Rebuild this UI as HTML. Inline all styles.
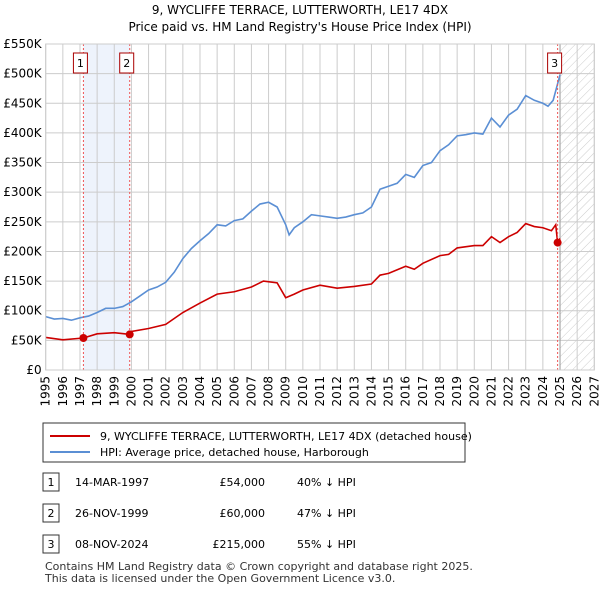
<!DOCTYPE html>
<html><head><meta charset="utf-8"><style>
body{margin:0;background:#fff;font-family:"Liberation Sans","DejaVu Sans",sans-serif;}
svg text{font-family:"DejaVu Sans","Liberation Sans",sans-serif;}
</style></head><body>
<svg id="c" width="600" height="590" xmlns="http://www.w3.org/2000/svg">
<defs><pattern id="h" width="6" height="6" patternUnits="userSpaceOnUse" patternTransform="rotate(45)"><line x1="0" y1="0" x2="0" y2="6" stroke="#ccc" stroke-width="1"/></pattern></defs>
<text x="300" y="14" text-anchor="middle" font-size="12">9, WYCLIFFE TERRACE, LUTTERWORTH, LE17 4DX</text>
<text x="300" y="31" text-anchor="middle" font-size="12">Price paid vs. HM Land Registry's House Price Index (HPI)</text>
<g id="plot"></g>
<rect x="43" y="423" width="422" height="39" fill="#fff" stroke="#333"/>
<line x1="50" y1="436" x2="90" y2="436" stroke="#cc0000" stroke-width="2"/>
<text x="100" y="440" font-size="11">9, WYCLIFFE TERRACE, LUTTERWORTH, LE17 4DX (detached house)</text>
<line x1="50" y1="452" x2="90" y2="452" stroke="#5b8fd4" stroke-width="2"/>
<text x="100" y="456" font-size="11">HPI: Average price, detached house, Harborough</text>
<g id="tbl"></g>
<text x="45" y="570" font-size="11" fill="#333">Contains HM Land Registry data © Crown copyright and database right 2025.</text>
<text x="45" y="582" font-size="11" fill="#333">This data is licensed under the Open Government Licence v3.0.</text>
</svg>
<script>
const hpiX=[1995,1995.5,1996,1996.5,1997,1997.5,1998,1998.5,1999,1999.5,2000,2000.5,2001,2001.5,2002,2002.5,2003,2003.5,2004,2004.5,2005,2005.5,2006,2006.5,2007,2007.5,2008,2008.5,2009,2009.2,2009.5,2010,2010.5,2011,2011.5,2012,2012.5,2013,2013.5,2014,2014.5,2015,2015.5,2016,2016.5,2017,2017.5,2018,2018.5,2019,2019.5,2020,2020.5,2021,2021.5,2022,2022.5,2023,2023.5,2024,2024.3,2024.6,2025];
const hpiY=[90,86,87,84,88,91,97,104,104,107,115,125,135,140,148,165,188,205,218,230,245,243,252,255,268,280,283,275,245,228,240,250,262,260,258,256,258,262,265,275,305,310,315,330,325,345,350,370,380,395,397,400,398,425,410,430,440,463,455,450,445,455,498];
const redX=[1995,1996,1997.2,1998,1999,1999.9,2000,2001,2002,2003,2004,2005,2006,2007,2007.7,2008.5,2009,2009.5,2010,2011,2012,2013,2014,2014.5,2015,2016,2016.5,2017,2018,2018.5,2019,2020,2020.5,2021,2021.5,2022,2022.5,2023,2023.5,2024,2024.5,2024.75,2024.86,2025];
const redY=[55,51,54,61,63,60,65,70,77,97,113,128,132,140,150,147,122,128,135,143,138,141,145,160,163,175,170,180,193,195,206,210,210,225,215,225,232,247,242,240,235,245,215,222];
const sales=[{t:1997.2,v:54,n:"1",d:"14-MAR-1997",p:"£54,000",h:"40% ↓ HPI"},{t:1999.9,v:60,n:"2",d:"26-NOV-1999",p:"£60,000",h:"47% ↓ HPI"},{t:2024.86,v:215,n:"3",d:"08-NOV-2024",p:"£215,000",h:"55% ↓ HPI"}];
const yTicks=[0,50,100,150,200,250,300,350,400,450,500,550];
const yLabels=["£0","£50K","£100K","£150K","£200K","£250K","£300K","£350K","£400K","£450K","£500K","£550K"];
const xYears=[1995,1996,1997,1998,1999,2000,2001,2002,2003,2004,2005,2006,2007,2008,2009,2010,2011,2012,2013,2014,2015,2016,2017,2018,2019,2020,2021,2022,2023,2024,2025,2026,2027];
const X0=45.7,X1=594.3,Y0=370,Y1=44;
const sx=t=>X0+(t-1995)*(X1-X0)/32, sy=v=>Y0-v*(Y0-Y1)/550;
const NS="http://www.w3.org/2000/svg";
const g=document.getElementById('plot');
function mk(tag,a,parent){const e=document.createElementNS(NS,tag);for(const k in a)e.setAttribute(k,a[k]);(parent||g).appendChild(e);return e;}
let e=mk('rect',{x:sx(sales[0].t),y:Y1,width:sx(sales[1].t)-sx(sales[0].t),height:Y0-Y1,fill:'#eef3fc'});


e=mk('rect',{x:sx(2025),y:Y1,width:X1-sx(2025),height:Y0-Y1,fill:'url(#h)'});


yTicks.forEach((v,i)=>{
 e=mk('line',{x1:X0,x2:X1,y1:sy(v),y2:sy(v),stroke:'#ccc'});
 
 
 e=mk('text',{x:X0-4,y:sy(v)+4,'text-anchor':'end','font-size':'12'});e.textContent=yLabels[i];
 
 
});
xYears.forEach(t=>{
 e=mk('line',{x1:sx(t),x2:sx(t),y1:Y1,y2:Y0,stroke:'#ccc'});
 
 
 e=mk('text',{x:0,y:0,'font-size':'12','text-anchor':'end',transform:`translate(${sx(t)+4},${Y0+6}) rotate(-90)`});e.textContent=t;
 
 
});
e=mk('line',{x1:sx(2025),x2:sx(2025),y1:Y1,y2:Y0,stroke:'#999'});


e=mk('polyline',{points:hpiX.map((t,i)=>sx(t)+','+sy(hpiY[i])).join(' '),fill:'none',stroke:'#5b8fd4','stroke-width':1.6});


e=mk('polyline',{points:redX.map((t,i)=>sx(t)+','+sy(redY[i])).join(' '),fill:'none',stroke:'#cc0000','stroke-width':1.6});


sales.forEach(s=>{
 e=mk('line',{x1:sx(s.t),x2:sx(s.t),y1:Y1,y2:Y0,stroke:'#ee5555','stroke-dasharray':'2,2'});
 
 
 e=mk('circle',{cx:sx(s.t),cy:sy(s.v),r:4,fill:'#cc0000'});
 
 
 e=mk('rect',{x:sx(s.t)-10,y:53,width:14,height:20,fill:'#fff',stroke:'#aa0000'});
 
 
 e=mk('text',{x:sx(s.t)-3,y:67,'text-anchor':'middle','font-size':'11'});e.textContent=s.n;
 
 
});
e=mk('rect',{x:X0,y:Y1,width:X1-X0,height:Y0-Y1,fill:'none',stroke:'#ccc'});


const tb=document.getElementById('tbl');
sales.forEach((s,i)=>{
 const y=482+i*31;
 e=mk('rect',{x:43,y:y-9,width:16,height:18,fill:'#fff',stroke:'#333'},tb);
 
 
 e=mk('text',{x:51,y:y+4,'text-anchor':'middle','font-size':'11'},tb);e.textContent=s.n;
 
 
 e=mk('text',{x:75,y:y+4,'font-size':'11'},tb);e.textContent=s.d;
 
 
 e=mk('text',{x:265,y:y+4,'text-anchor':'end','font-size':'11'},tb);e.textContent=s.p;
 
 
 e=mk('text',{x:297,y:y+4,'font-size':'11'},tb);e.textContent=s.h;
 
 
});
</script>
</body></html>
